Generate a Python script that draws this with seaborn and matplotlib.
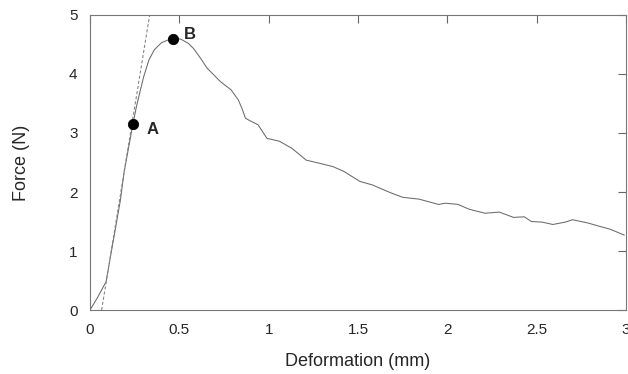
import numpy as np
import pandas as pd
import seaborn as sns
import matplotlib
matplotlib.use('Agg')
import matplotlib.pyplot as plt

# curva forca x deformacao
deformacao = [0.0, 0.04, 0.09, 0.17, 0.19, 0.24, 0.26, 0.275, 0.30, 0.33, 0.36, 0.40, 0.44, 0.465,
              0.508, 0.55, 0.58, 0.62, 0.655, 0.73, 0.79, 0.83, 0.85, 0.87, 0.90, 0.94, 0.99, 1.06, 1.13, 1.21,
              1.28, 1.36, 1.42, 1.51, 1.58, 1.68, 1.75, 1.84, 1.95, 1.99, 2.06, 2.12,
              2.21, 2.29, 2.37, 2.43, 2.47, 2.53, 2.59, 2.66, 2.70, 2.78, 2.85, 2.91, 2.99]
forca = [0.0, 0.20, 0.48, 1.86, 2.32, 3.15, 3.45, 3.64, 3.95, 4.24, 4.41, 4.53, 4.58, 4.60,
         4.59, 4.52, 4.43, 4.26, 4.10, 3.87, 3.73, 3.56, 3.42, 3.25, 3.20, 3.14, 2.91, 2.86, 2.74, 2.54,
         2.49, 2.43, 2.35, 2.18, 2.12, 1.99, 1.91, 1.88, 1.79, 1.81, 1.79, 1.71,
         1.64, 1.66, 1.57, 1.58, 1.50, 1.49, 1.45, 1.49, 1.53, 1.48, 1.42, 1.37, 1.27]

# reta tangente (tracejada)
tangente_x = [0.065, 0.335]
tangente_y = [0.0, 5.02]

# pontos A e B
pontos_nome = ['A', 'B']
pontos_x = [0.24, 0.465]
pontos_y = [3.15, 4.59]

df = pd.DataFrame({'x': deformacao, 'y': forca})
df_tan = pd.DataFrame({'x': tangente_x, 'y': tangente_y})
df_pts = pd.DataFrame({'nome': pontos_nome, 'x': pontos_x, 'y': pontos_y})

sns.set_style('white')
plt.rcParams['font.family'] = ['Liberation Sans', 'DejaVu Sans']

fig = plt.figure(figsize=(6.28, 3.74), dpi=100)
ax = fig.add_axes([0.1433, 0.171, 0.8537, 0.789])

sns.lineplot(data=df, x='x', y='y', sort=False, color='#6a6a6a', linewidth=0.75, ax=ax)
sns.lineplot(data=df_tan, x='x', y='y', sort=False, color='#808080', linewidth=0.75,
             linestyle=(0, (3, 2)), ax=ax)
sns.scatterplot(data=df_pts, x='x', y='y', color='black', s=55, edgecolor='black', zorder=5, ax=ax)

for _, r in df_pts.iterrows():
    if r['nome'] == 'A':
        ax.annotate('A', (r['x'], r['y']), xytext=(10, -7), textcoords='offset points',
                    fontsize=12, fontweight='bold')
    else:
        ax.annotate('B', (r['x'], r['y']), xytext=(8, 0), textcoords='offset points',
                    fontsize=12, fontweight='bold')

ax.set_xlim(0, 3)
ax.set_ylim(0, 5)
ax.set_xticks([0, 0.5, 1, 1.5, 2, 2.5, 3])
ax.set_xticklabels(['0', '0.5', '1', '1.5', '2', '2.5', '3'])
ax.set_yticks([0, 1, 2, 3, 4, 5])
ax.tick_params(direction='in', length=6, width=0.8, color='#666666', labelsize=11,
               top=True, right=True, pad=9)
for s in ax.spines.values():
    s.set_color('#777777')
    s.set_linewidth(0.8)

ax.set_xlabel('Deformation (mm)', fontsize=13, labelpad=12)
ax.set_ylabel('Force (N)', fontsize=13, labelpad=28)

fig.savefig('out.png', dpi=100)
